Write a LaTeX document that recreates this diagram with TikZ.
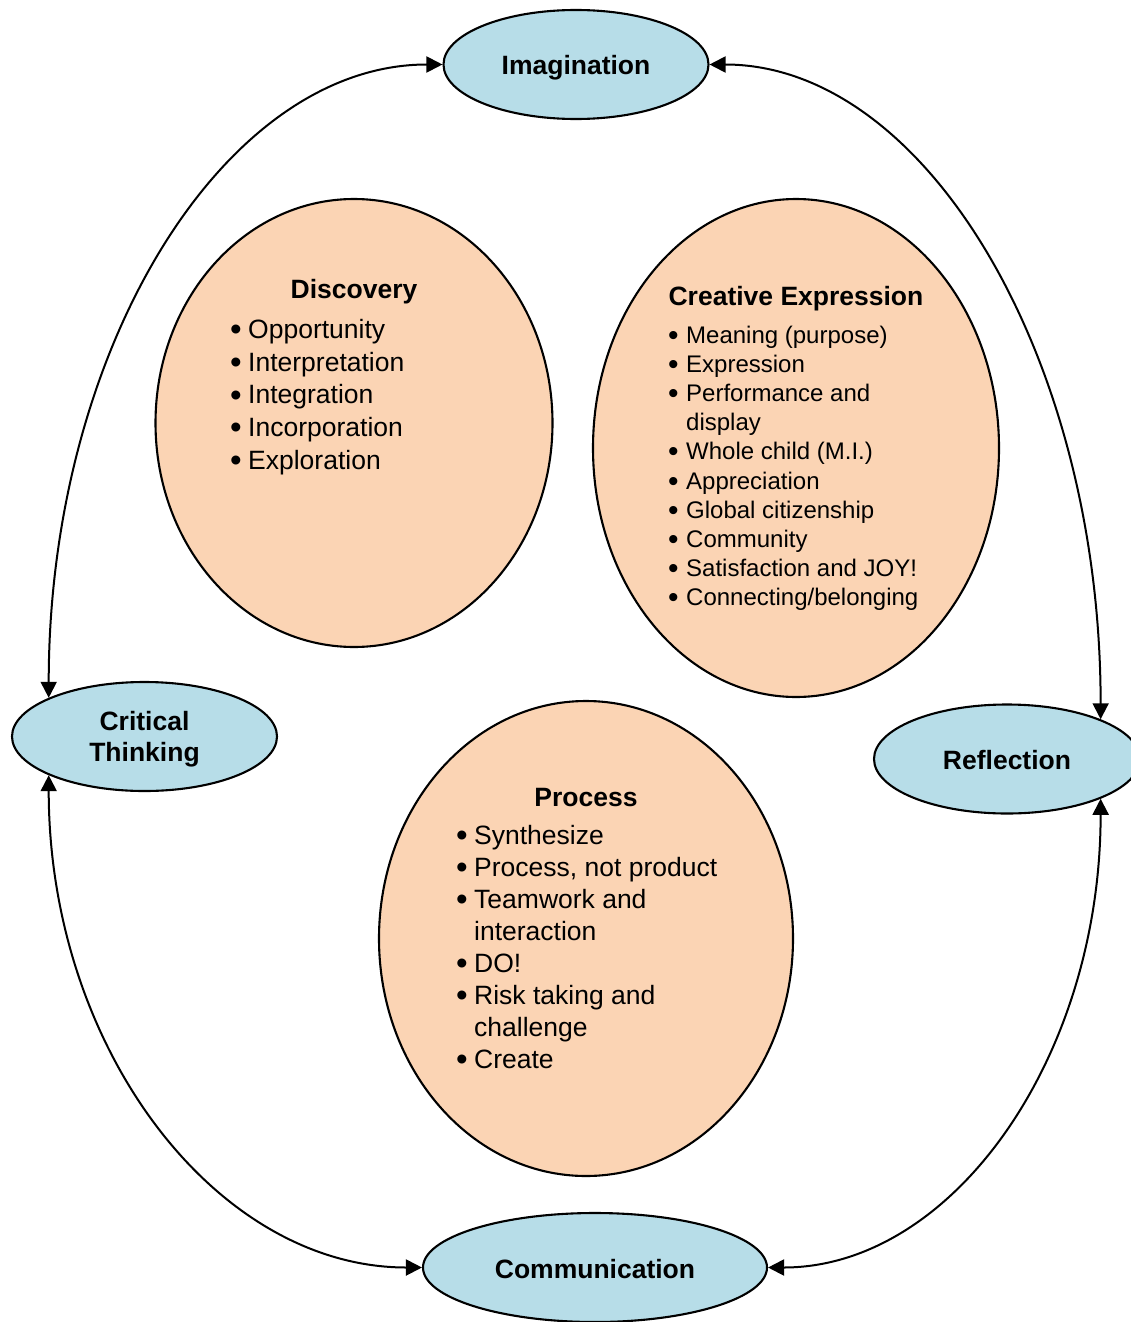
\documentclass[tikz,border=0pt]{standalone}
\usepackage{fontspec}
\usepackage{graphicx}
\setmainfont{Liberation Sans}
\usetikzlibrary{shapes.geometric,arrows.meta}
\definecolor{bluefill}{RGB}{183,221,232}
\definecolor{peachfill}{RGB}{251,212,180}
% bulleted line and its continuation line with a hanging indent
\newcommand\bigbullet{\raisebox{-0.08em}{\scalebox{1.25}{\textbullet}}}
\newcommand\itm[1]{\makebox[18pt][l]{\bigbullet}#1}
\newcommand\cnt[1]{\hspace*{18pt}#1}
% lower a label a little without changing its box
\newcommand\low[2][3pt]{\raisebox{-#1}[\height][\depth]{#2}}
\begin{document}
\begin{tikzpicture}[x=1pt,y=-1pt,
  stage/.style={ellipse,draw=black,line width=2.1pt,fill=bluefill,inner sep=0pt,
    minimum width=265pt,minimum height=109pt,
    font=\fontsize{26.5}{31}\selectfont\bfseries,align=center},
  area/.style={ellipse,draw=black,line width=2.1pt,fill=peachfill,inner sep=0pt},
  heading/.style={font=\fontsize{26.5}{32}\selectfont\bfseries,inner sep=0pt},
  items/.style={align=left,inner sep=0pt,anchor=north west},
  link/.style={line width=2pt,
    {Triangle[length=16pt,width=16pt]}-{Triangle[length=16pt,width=16pt]}}
]
\useasboundingbox (0,0) rectangle (1130,1322);

% the three content areas
\node[area,minimum width=397pt,minimum height=448pt] (disc) at (354,423) {};
\node[area,minimum width=406pt,minimum height=498pt] (creat) at (796,448) {};
\node[area,minimum width=414pt,minimum height=475pt] (proc) at (586,938.5) {};

\node[heading] (discT) at (354,292) {Discovery};
\node[items,font=\fontsize{26.5}{32.75}\selectfont] (discL) at (230,319)
  {\itm{Opportunity}\\ \itm{Interpretation}\\ \itm{Integration}\\
   \itm{Incorporation}\\ \itm{Exploration}};

\node[heading] (creatT) at (796,299) {Creative Expression};
\node[items,font=\fontsize{24}{29.1}\selectfont] (creatL) at (668,326)
  {\itm{Meaning (purpose)}\\ \itm{Expression}\\ \itm{Performance and}\\
   \cnt{display}\\ \itm{Whole child (M.I.)}\\ \itm{Appreciation}\\
   \itm{Global citizenship}\\ \itm{Community}\\ \itm{Satisfaction and JOY!}\\
   \itm{Connecting/belonging}};

\node[heading] (procT) at (586,798) {Process};
\node[items,font=\fontsize{26.5}{32}\selectfont] (procL) at (456,825)
  {\itm{Synthesize}\\ \itm{Process, not product}\\ \itm{Teamwork and}\\
   \cnt{interaction}\\ \itm{DO!}\\ \itm{Risk taking and}\\ \cnt{challenge}\\
   \itm{Create}};

% the four stages around the cycle
\node[stage] (imag) at (576,64.5) {\low{Imagination}};
\node[stage] (crit) at (144.5,736.5) {\low{Critical}\\\low{Thinking}};
\node[stage,minimum width=266pt] (refl) at (1007,759) {\low[1pt]{Reflection}};
\node[stage,minimum width=344pt] (comm) at (595,1267.5) {\low[2pt]{Communication}};

% two-way links between the stages
\draw[link] (crit.158) .. controls +(0,-350) and +(-218,0) .. (imag.west);
\draw[link] (imag.east) .. controls +(216,0) and +(0,-362) .. (refl.23);
\draw[link] (crit.202) .. controls +(0,273) and +(-206,0) .. (comm.west);
\draw[link] (refl.-23) .. controls +(0,260) and +(184,0) .. (comm.east);
\end{tikzpicture}
\end{document}
